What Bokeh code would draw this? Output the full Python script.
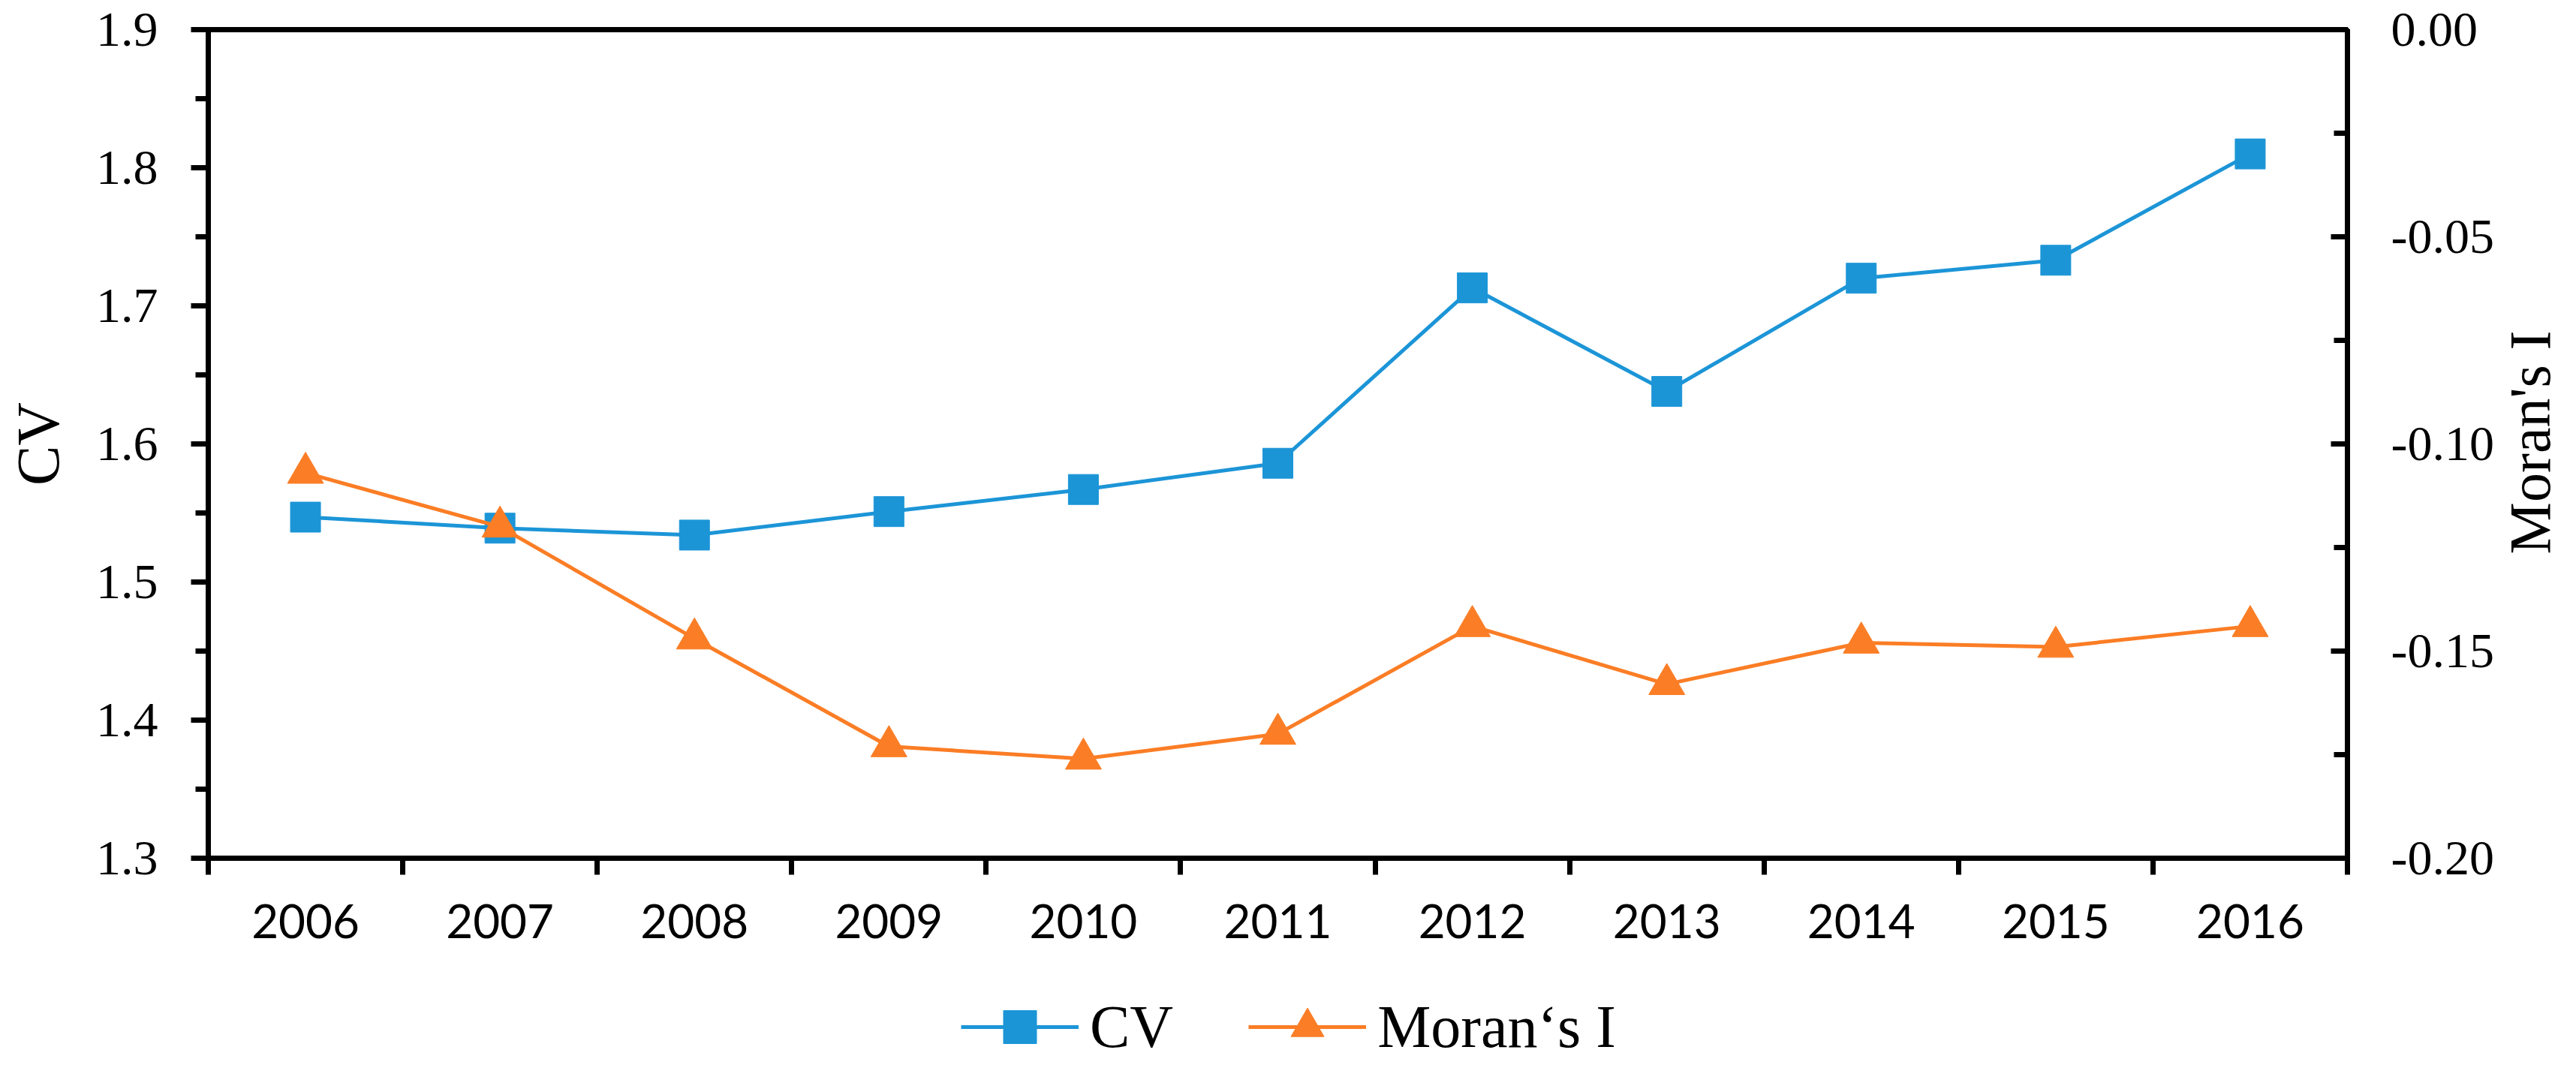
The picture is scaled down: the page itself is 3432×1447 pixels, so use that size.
import math
from bokeh.plotting import figure
from bokeh.layouts import row, column
from bokeh.models import (Range1d, LinearAxis, FixedTicker, PrintfTickFormatter,
                          Legend, LegendItem, ColumnDataSource, Label)
from bokeh.embed import file_html
from bokeh.resources import INLINE

# ---- data ----
years = [2006, 2007, 2008, 2009, 2010, 2011, 2012, 2013, 2014, 2015, 2016]
cv = [1.547, 1.539, 1.534, 1.551, 1.567, 1.586, 1.713, 1.638, 1.720, 1.733, 1.810]
moran = [-0.107, -0.120, -0.147, -0.173, -0.176, -0.170, -0.144, -0.158, -0.148, -0.149, -0.144]
cv_ticks = [1.3, 1.4, 1.5, 1.6, 1.7, 1.8, 1.9]
moran_ticks = [-0.20, -0.15, -0.10, -0.05, 0.00]

BLUE = "#1C95D7"
ORANGE = "#FB7D25"
SERIF = "Liberation Serif"

src = ColumnDataSource(dict(year=years, cv=cv, moran=moran))

FW, FH = 2850, 1104
BL, BT, BR, BB = 277, 39, 200, 170
PH = BT + FH + BB
PW = BL + FW + BR

p = figure(frame_width=FW, frame_height=FH,
           x_range=Range1d(years[0] - 0.5, years[-1] + 0.5),
           y_range=Range1d(cv_ticks[0], cv_ticks[-1]),
           output_backend="svg", toolbar_location=None,
           min_border_left=BL, min_border_top=BT,
           min_border_right=BR, min_border_bottom=BB)
p.extra_y_ranges = {"moran": Range1d(moran_ticks[0], moran_ticks[-1])}
p.grid.visible = False
p.outline_line_color = "black"
p.outline_line_width = 7
p.background_fill_color = "white"
p.border_fill_color = "white"

# x axis: labels at year centres, ticks at boundaries
xa = p.xaxis[0]
xa.ticker = FixedTicker(ticks=years, minor_ticks=[y - 0.5 for y in years] + [years[-1] + 0.5])
xa.formatter = PrintfTickFormatter(format="%d")
xa.major_tick_out = 0
xa.major_tick_in = 0
xa.minor_tick_out = 22
xa.minor_tick_in = 0
xa.major_tick_line_width = 7
xa.minor_tick_line_width = 7
xa.axis_line_width = 7
xa.major_label_standoff = 39
xa.major_label_text_font = "Lato"
xa.major_label_text_font_size = "62px"
xa.major_label_text_color = "black"

# left axis
ya = p.yaxis[0]
ya.ticker = FixedTicker(ticks=cv_ticks,
                        minor_ticks=[round(t + 0.05, 2) for t in cv_ticks[:-1]])
ya.formatter = PrintfTickFormatter(format="%.1f")
ya.major_tick_out = 23
ya.major_tick_in = 0
ya.minor_tick_out = 17
ya.minor_tick_in = 0
ya.major_tick_line_width = 7
ya.minor_tick_line_width = 7
ya.axis_line_width = 7
ya.major_label_standoff = 44
ya.major_label_text_font = SERIF
ya.major_label_text_font_size = "66px"
ya.major_label_text_color = "black"
ya.axis_label = "CV"
ya.axis_label_text_font = SERIF
ya.axis_label_text_font_size = "80px"
ya.axis_label_text_font_style = "normal"
ya.axis_label_text_color = "black"
ya.axis_label_standoff = 30

# right axis
ra = LinearAxis(y_range_name="moran")
ra.ticker = FixedTicker(ticks=moran_ticks,
                        minor_ticks=[round(t + 0.025, 3) for t in moran_ticks[:-1]])
ra.formatter = PrintfTickFormatter(format="%.2f")
ra.major_tick_out = 0
ra.major_tick_in = 22
ra.minor_tick_out = 0
ra.minor_tick_in = 18
ra.major_tick_line_width = 7
ra.minor_tick_line_width = 7
ra.axis_line_width = 7
ra.major_label_standoff = 58
ra.major_label_text_font = SERIF
ra.major_label_text_font_size = "66px"
ra.major_label_text_color = "black"
p.add_layout(ra, "right")

# series
line_cv = dict(line_color=BLUE, line_width=5)
mark_cv = dict(marker="square", size=40, fill_color=BLUE, line_color=BLUE)
line_m = dict(line_color=ORANGE, line_width=5)
mark_m = dict(marker="triangle", size=48, fill_color=ORANGE, line_color=ORANGE)

p.line("year", "cv", source=src, **line_cv)
p.scatter("year", "cv", source=src, **mark_cv)
p.line("year", "moran", source=src, y_range_name="moran", **line_m)
p.scatter("year", "moran", source=src, y_range_name="moran", **mark_m)

# right-axis title in a narrow strip to the right, reading bottom to top
TW = 89
tfig = figure(width=TW, height=PH, x_axis_type=None, y_axis_type=None,
              x_range=Range1d(0, 1), y_range=Range1d(0, 1),
              output_backend="svg", toolbar_location=None, min_border=0)
tfig.outline_line_color = None
tfig.grid.visible = False
tfig.add_layout(Label(x=43, y=PH - 578 - 181, x_units="screen", y_units="screen",
                      text="Moran's I", angle=math.pi / 2, anchor="center",
                      text_align="center", text_baseline="middle",
                      text_font=SERIF, text_font_size="78px", text_color="black"))

# legend strip below the chart (its renderers use the same data, outside this
# strip's view, so only the legend shows)
LH = 110
lfig = figure(width=PW + TW, height=LH, x_axis_type=None, y_axis_type=None,
              x_range=Range1d(0, 1), y_range=Range1d(0, 1),
              output_backend="svg", toolbar_location=None, min_border=0)
lfig.outline_line_color = None
lfig.grid.visible = False
l1 = lfig.line("year", "cv", source=src, **line_cv)
s1 = lfig.scatter("year", "cv", source=src, **mark_cv)
l2 = lfig.line("year", "moran", source=src, **line_m)
s2 = lfig.scatter("year", "moran", source=src, **mark_m)
legend = Legend(items=[LegendItem(label="CV", renderers=[l1, s1]),
                       LegendItem(label="Moran‘s I", renderers=[l2, s2])],
                location=(1280, 0), orientation="horizontal",
                glyph_width=157, glyph_height=110, label_standoff=15, spacing=100,
                padding=0, margin=0, border_line_color=None,
                background_fill_alpha=0,
                label_text_font=SERIF, label_text_font_size="80px",
                label_text_color="black")
lfig.add_layout(legend, "center")

layout = column(row(p, tfig), lfig)
open("out.html", "w").write(file_html(layout, INLINE))
